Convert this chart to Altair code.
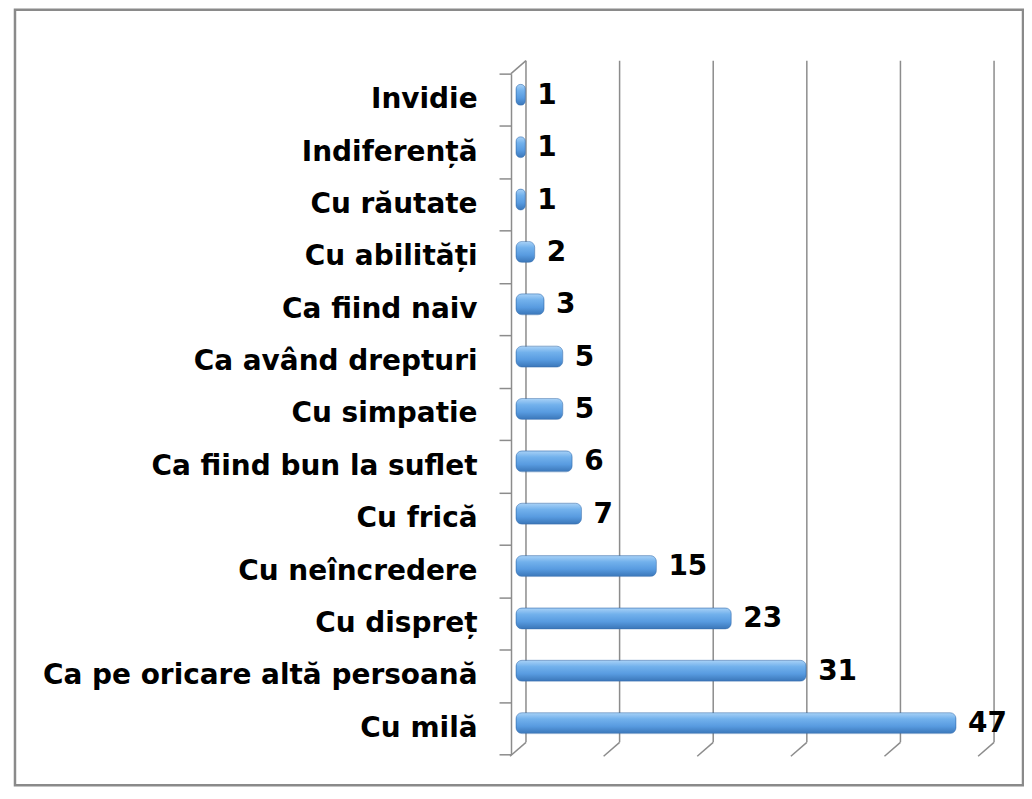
import altair as alt
import pandas as pd

categories = ["Invidie", "Indiferență", "Cu răutate", "Cu abilități", "Ca fiind naiv",
              "Ca având drepturi", "Cu simpatie", "Ca fiind bun la suflet", "Cu frică",
              "Cu neîncredere", "Cu dispreț", "Ca pe oricare altă persoană", "Cu milă"]
values = [1, 1, 1, 2, 3, 5, 5, 6, 7, 15, 23, 31, 47]
grid_values = [0, 10, 20, 30, 40, 50]

W, H = 469, 682
FONT = "DejaVu Sans"
GRID = "#8c8c8c"

df = pd.DataFrame({"cat": categories, "val": values})
gdf = pd.DataFrame({"g": grid_values})
one = pd.DataFrame({"a": [0]})

xscale = alt.Scale(domain=[0, 50], nice=False, zero=True)

border = alt.Chart(one).mark_rect(filled=False, stroke="#8a8a8a", strokeWidth=2.5).encode(
    x=alt.value(-502), x2=alt.value(508), y=alt.value(-64), y2=alt.value(713)
)

grid = alt.Chart(gdf).mark_rule(color=GRID, strokeWidth=1.5, xOffset=10).encode(
    x=alt.X("g:Q", scale=xscale, axis=None),
    y=alt.value(-13), y2=alt.value(670)
)

floor = alt.Chart(gdf).mark_rule(color=GRID, strokeWidth=1.5, xOffset=10, x2Offset=-6).encode(
    x=alt.X("g:Q", scale=xscale, axis=None),
    x2="g:Q",
    y=alt.value(670), y2=alt.value(684)
)

topslant = alt.Chart(one).mark_rule(color=GRID, strokeWidth=1.5).encode(
    x=alt.value(-5), x2=alt.value(10), y=alt.value(0), y2=alt.value(-13)
)

gradient = alt.LinearGradient(
    gradient="linear",
    stops=[alt.GradientStop(color="#a9d2f7", offset=0),
           alt.GradientStop(color="#72b1ec", offset=0.3),
           alt.GradientStop(color="#589be0", offset=0.65),
           alt.GradientStop(color="#3a76b8", offset=1)],
    x1=0, x2=0, y1=0, y2=1,
)

yenc = alt.Y(
    "cat:N", sort=categories, title=None,
    scale=alt.Scale(paddingInner=0, paddingOuter=0),
    axis=alt.Axis(
        offset=5, domainColor=GRID, domainWidth=1.5, tickColor=GRID, tickWidth=1.5,
        tickSize=12, tickBand="extent", labelFont=FONT, labelFontWeight="bold",
        labelFontSize=28, labelColor="#000000", labelPadding=22, labelLimit=600,
        grid=False,
    ),
)

bars = alt.Chart(df).mark_bar(size=21, cornerRadius=6, yOffset=-5, color=gradient,
                              stroke="#3b72b0", strokeWidth=0.5).encode(
    x=alt.X("val:Q", scale=xscale, axis=None),
    y=yenc,
)

labels = alt.Chart(df).mark_text(align="left", baseline="middle", dx=12, dy=-4,
                                 font=FONT, fontWeight="bold", fontSize=28,
                                 color="#000000").encode(
    x=alt.X("val:Q", scale=xscale, axis=None),
    y=alt.Y("cat:N", sort=categories),
    text="val:Q",
)

chart = alt.layer(border, grid, floor, topslant, bars, labels).properties(
    width=W, height=H,
    autosize=alt.AutoSizeParams(type="none"),
    padding={"left": 509, "top": 65, "right": 40, "bottom": 32},
    background="white",
).configure_view(stroke=None, strokeWidth=0)

chart.save("out.html", embed_options={"renderer": "svg", "actions": False})
